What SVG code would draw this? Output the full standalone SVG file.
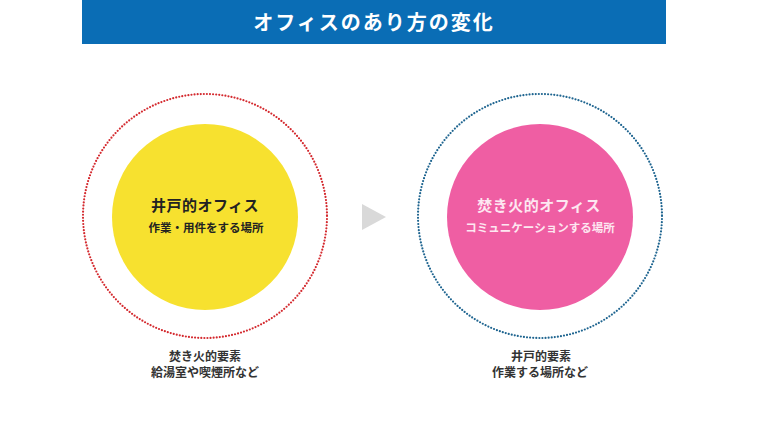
<svg xmlns="http://www.w3.org/2000/svg" width="780" height="438" viewBox="0 0 780 438">
<style>
text{font-family:"Noto Sans CJK JP","Noto Sans CJK SC",sans-serif;font-weight:bold;text-anchor:middle}
.ring{fill:none;stroke-width:2.2;stroke-dasharray:0 3.1;stroke-linecap:round}
.h{font-size:15px;letter-spacing:0.5px}
.s{font-size:11.5px}
.cap{font-size:12px;fill:#333}
</style>
<rect width="780" height="438" fill="#fff"/>
<g id="title">
<rect x="82" y="0" width="584" height="44" fill="#0a6db5"/>
<text x="374" y="30" font-size="20" letter-spacing="2" fill="#fff">オフィスのあり方の変化</text>
</g>
<g id="well">
<circle class="ring" cx="205" cy="216" r="122" stroke="#d42a2f"/>
<circle cx="205" cy="217" r="93" fill="#f7e12f"/>
<text class="h" x="205" y="211" fill="#222">井戸的オフィス</text>
<text class="s" x="206" y="232" fill="#222">作業・用件をする場所</text>
</g>
<g id="connectors">
<polygon points="362,204 362,230 386,217" fill="#d9d9d9"/>
</g>
<g id="bonfire">
<circle class="ring" cx="540" cy="216" r="122" stroke="#1f6590"/>
<circle cx="540" cy="217" r="93" fill="#ef5ea3"/>
<text class="h" x="539" y="211" fill="#fde7f1">焚き火的オフィス</text>
<text class="s" x="540" y="232" fill="#fde7f1">コミュニケーションする場所</text>
</g>
<g id="caption-left">
<text class="cap" x="205" y="361">焚き火的要素</text>
<text class="cap" x="205" y="377">給湯室や喫煙所など</text>
</g>
<g id="caption-right">
<text class="cap" x="541" y="361">井戸的要素</text>
<text class="cap" x="540" y="377">作業する場所など</text>
</g>
</svg>
